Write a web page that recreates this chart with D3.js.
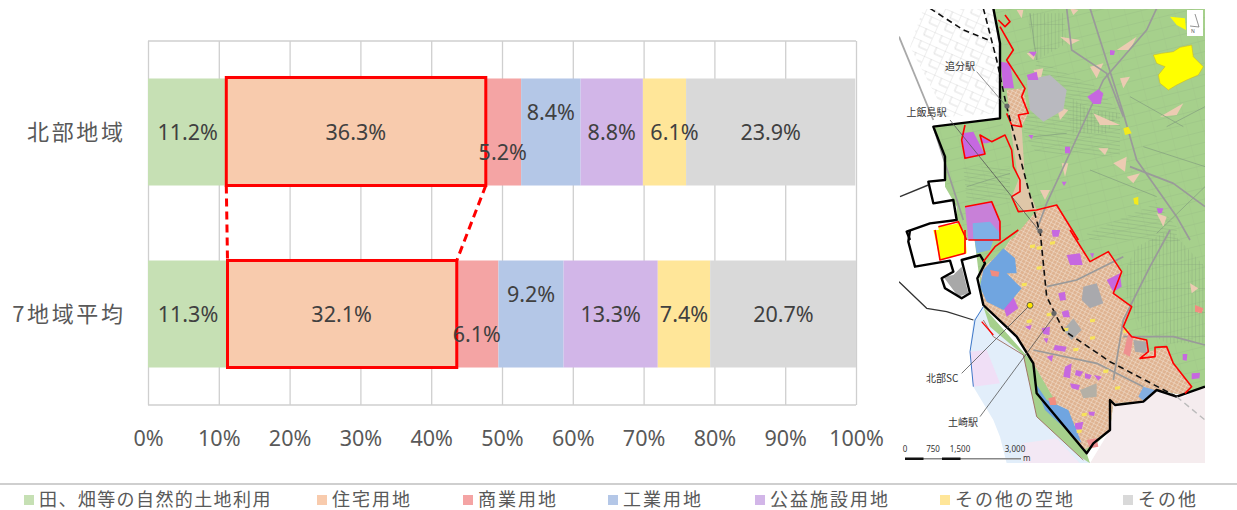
<!DOCTYPE html>
<html>
<head>
<meta charset="utf-8">
<script src="https://cdn.jsdelivr.net/npm/d3@7"></script>
<style>
html, body { margin: 0; padding: 0; background: #fff; overflow: hidden; }
svg { display: block; }
text { font-family: "Noto Sans", "Noto Sans CJK JP", sans-serif; }
.cjk { font-family: "Noto Sans CJK JP", sans-serif; }
</style>
</head>
<body>
<svg id="chart" width="1237" height="510"></svg>
<script>
var regions = ['北部地域', '7地域平均'];
var landUse = ['田、畑等の自然的土地利用', '住宅用地', '商業用地', '工業用地', '公益施設用地', 'その他の空地', 'その他'];
var northValues = [11.2, 36.3, 5.2, 8.4, 8.8, 6.1, 23.9];
var averageValues = [11.3, 32.1, 6.1, 9.2, 13.3, 7.4, 20.7];
var colors = ['#c6e0b4', '#f8cbad', '#f4a4a4', '#b4c7e7', '#d2b6e8', '#ffe699', '#d9d9d9'];
var xTicks = [0, 10, 20, 30, 40, 50, 60, 70, 80, 90, 100];
var legendX = [24, 317, 463, 608, 755, 940, 1123];

var svg = d3.select('#chart');

var x = d3.scaleLinear().domain([0, 100]).range([148, 856]);
var y = d3.scaleBand().domain(regions).range([41, 405]).paddingInner(0.412).paddingOuter(0.206);

// grid + x labels
var axis = d3.axisBottom(x).tickValues(xTicks).tickFormat(function (d) { return d + '%'; }).tickSize(-364).tickPadding(22);
var axisG = svg.append('g').attr('transform', 'translate(0,405)').call(axis);
axisG.select('.domain').remove();
axisG.selectAll('line').attr('stroke', '#cfcfcf').attr('stroke-width', 1.3);
axisG.selectAll('text').attr('fill', '#595959').style('font-size', '21.5px').attr('dy', '0.35em').attr('y', 33);
svg.append('line').attr('x1', x(0)).attr('x2', x(100)).attr('y1', 41).attr('y2', 41).attr('stroke', '#cfcfcf').attr('stroke-width', 1.3);
svg.append('line').attr('x1', x(0)).attr('x2', x(100)).attr('y1', 405).attr('y2', 405).attr('stroke', '#cfcfcf').attr('stroke-width', 1.3);

// region labels
svg.selectAll('.region').data(regions).enter().append('text')
	.attr('class', 'region cjk')
	.attr('x', 125.5)
	.attr('y', function (d) { return y(d) + y.bandwidth() / 2; })
	.attr('dy', '0.35em')
	.attr('text-anchor', 'end')
	.attr('fill', '#595959')
	.style('font-size', '22px')
	.style('letter-spacing', '2.6px')
	.text(function (d) { return d; });

// stacked bars
function drawRow(region, values) {
	var cum = 0;
	values.forEach(function (v, i) {
		var x0 = cum;
		cum += v;
		svg.append('rect')
			.attr('x', x(x0))
			.attr('y', y(region))
			.attr('width', x(Math.min(cum, 100)) - x(x0))
			.attr('height', y.bandwidth())
			.attr('fill', colors[i]);
	});
}
function drawLabels(region, values) {
	var cum = 0;
	var mid = y(region) + y.bandwidth() / 2;
	values.forEach(function (v, i) {
		var x0 = cum;
		cum += v;
		// the narrow segments are nudged like in the original
		var dy = i == 2 ? 20 : (i == 3 ? -20 : 0);
		var dx = (i == 5 && region == regions[0]) ? 10 : 0;
		svg.append('text')
			.attr('x', x((x0 + cum) / 2) + dx)
			.attr('y', mid + dy)
			.attr('dy', '0.35em')
			.attr('text-anchor', 'middle')
			.attr('fill', '#404040')
			.style('font-size', '21.5px')
			.text(v.toFixed(1) + '%');
	});
}
drawRow(regions[0], northValues);
drawRow(regions[1], averageValues);

// red highlight on the housing segment
var red = '#ff0000';
var n0 = x(northValues[0]) - 1, n1 = x(northValues[0] + northValues[1]) + 1.5;
var a0 = x(averageValues[0]) - 0.5, a1 = x(averageValues[0] + averageValues[1]) + 1.5;
var nBottom = y(regions[0]) + y.bandwidth(), aTop = y(regions[1]);
svg.append('rect').attr('x', n0).attr('y', y(regions[0]) - 1).attr('width', n1 - n0).attr('height', y.bandwidth() + 1)
	.attr('fill', 'none').attr('stroke', red).attr('stroke-width', 3);
svg.append('rect').attr('x', a0).attr('y', aTop).attr('width', a1 - a0).attr('height', y.bandwidth())
	.attr('fill', 'none').attr('stroke', red).attr('stroke-width', 3);
[[n0, a0], [n1, a1]].forEach(function (p) {
	svg.append('line').attr('x1', p[0]).attr('x2', p[1]).attr('y1', nBottom).attr('y2', aTop)
		.attr('stroke', red).attr('stroke-width', 3).attr('stroke-dasharray', '8 5');
});
drawLabels(regions[0], northValues);
drawLabels(regions[1], averageValues);

// legend
svg.append('line').attr('x1', 0).attr('x2', 1237).attr('y1', 484).attr('y2', 484).attr('stroke', '#bfbfbf').attr('stroke-width', 1.5);
landUse.forEach(function (name, i) {
	svg.append('rect').attr('x', legendX[i]).attr('y', 495).attr('width', 10).attr('height', 10).attr('fill', colors[i]);
	svg.append('text').attr('class', 'cjk')
		.attr('x', legendX[i] + 15).attr('y', 500).attr('dy', '0.36em')
		.attr('fill', '#595959')
		.style('font-size', '18px')
		.style('letter-spacing', i == 0 ? '1.4px' : '2px')
		.text(name);
});

// ---- location map (illustration, traced roughly by eye)
var defs = svg.append('defs');
defs.append('clipPath').attr('id', 'mapClip').append('rect').attr('x', 899).attr('y', 9).attr('width', 306).attr('height', 454);
defs.append('filter').attr('id', 'soft').append('feGaussianBlur').attr('stdDeviation', 0.4);
var pat = defs.append('pattern').attr('id', 'town').attr('width', 4).attr('height', 3.5).attr('patternUnits', 'userSpaceOnUse')
	.attr('patternTransform', 'rotate(28)');
pat.append('rect').attr('width', 4).attr('height', 3.5).attr('fill', '#dfb391');
pat.append('path').attr('d', 'M0 0H4M0 0V3.5').attr('stroke', '#f4e6d8').attr('stroke-width', 0.9);
var patG = defs.append('pattern').attr('id', 'fields').attr('width', 16).attr('height', 11).attr('patternUnits', 'userSpaceOnUse')
	.attr('patternTransform', 'rotate(-14)');
patG.append('rect').attr('width', 16).attr('height', 11).attr('fill', '#a6d08c');
patG.append('path').attr('d', 'M0 0H16').attr('stroke', '#8fae80').attr('stroke-width', 0.5);
patG.append('path').attr('d', 'M0 0V11').attr('stroke', '#99bd86').attr('stroke-width', 0.4);
var patR = defs.append('pattern').attr('id', 'rows').attr('width', 3.6).attr('height', 24).attr('patternUnits', 'userSpaceOnUse');
patR.append('path').attr('d', 'M0 0V24').attr('stroke', '#7f9c78').attr('stroke-width', 0.6);
patR.append('path').attr('d', 'M0 0H3.6').attr('stroke', '#7f9c78').attr('stroke-width', 0.5);
var patH = defs.append('pattern').attr('id', 'rowsH').attr('width', 30).attr('height', 4).attr('patternUnits', 'userSpaceOnUse')
	.attr('patternTransform', 'rotate(8)');
patH.append('path').attr('d', 'M0 0H30').attr('stroke', '#7f9c78').attr('stroke-width', 0.6);
var patN = defs.append('pattern').attr('id', 'streets').attr('width', 17).attr('height', 13).attr('patternUnits', 'userSpaceOnUse')
	.attr('patternTransform', 'rotate(24)');
patN.append('path').attr('d', 'M0 0H17M0 0V13M8 0V7M8 7H17').attr('fill', 'none').attr('stroke', '#c4c4c4').attr('stroke-width', 0.55);

var map = svg.append('g').attr('clip-path', 'url(#mapClip)').append('g').attr('filter', 'url(#soft)');
var line = d3.line();
function upper(pts) { return pts.map(function (p) { return [890 + p[0] / 3, p[1] / 3]; }); }
function lower(pts) { return pts.map(function (p) { return [890 + p[0] / 3, 230 + p[1] / 3]; }); }
function poly(pts, fill, stroke, w, dash) {
	map.append('path').attr('d', line(pts) + (fill == 'none' ? '' : 'Z')).attr('fill', fill)
		.attr('stroke', stroke || 'none').attr('stroke-width', w || 0).attr('stroke-dasharray', dash || null)
		.attr('stroke-linejoin', 'round');
}

map.append('rect').attr('x', 899).attr('y', 9).attr('width', 306).attr('height', 454).attr('fill', '#fff');

// outside the area: sea side and south
poly(lower([[280,230],[250,270],[240,360],[250,470],[310,570],[330,620],[350,700],[600,700],[430,400]]), '#e2eefa');
poly(lower([[240,365],[290,360],[330,460],[250,470]]), '#f0dff6');
poly(lower([[600,700],[660,600],[670,520],[800,480],[880,500],[945,470],[945,700]]), '#f5ecee');
poly(lower([[400,640],[500,625],[570,700],[400,700]]), '#f3e8f4');

// main green land use
poly(upper([[310,25],[945,25],[945,720],[200,720],[200,620],[165,560],[165,470],[130,380],[330,355],[330,130]]), 'url(#fields)');
poly(lower([[945,0],[945,470],[880,495],[800,480],[760,515],[670,520],[660,600],[590,670],[430,400],[380,320],[280,230],[265,120],[250,0]]), 'url(#fields)');
poly(lower([[280,230],[430,400],[590,670],[600,700],[570,680],[440,560],[400,375],[300,290]]), '#a6d08c');

// bundles of farm rows
poly(upper([[440,180],[620,260],[690,340],[690,470],[440,460],[400,400]]), 'url(#rowsH)');
poly(upper([[590,700],[800,610],[860,680],[860,720],[600,720]]), 'url(#rowsH)');
poly(upper([[410,40],[520,40],[530,130],[440,180]]), 'url(#rows)');
poly(lower([[740,50],[840,0],[945,110],[945,340],[830,340],[760,300],[715,220],[700,130]]), 'url(#rows)');
poly(upper([[540,290],[600,330],[690,340],[650,400],[540,400]]), 'url(#rows)');
poly(upper([[220,500],[360,500],[360,600],[230,600]]), 'url(#rowsH)');

// urban area
poly(lower([[380,0],[540,0],[600,95],[655,65],[695,125],[670,190],[725,230],[700,290],[725,320],[770,330],[775,365],[830,350],[850,400],[905,470],[880,495],[800,480],[760,515],[670,520],[660,600],[600,650],[580,660],[430,400],[380,320],[280,230],[270,120],[340,60]]), 'url(#town)');
poly(upper([[365,720],[440,630],[500,615],[565,720]]), 'url(#town)');
poly(upper([[345,25],[360,70],[330,130],[370,150],[355,180],[400,260],[415,340],[390,380],[400,540],[365,590],[440,630],[365,720],[360,600],[360,410],[330,360],[330,100]]), '#a6d08c');
poly(upper([[350,270],[400,265],[415,340],[395,380],[360,370]]), 'url(#town)');
poly(upper([[360,370],[395,380],[405,540],[440,630],[400,640],[365,590],[385,540]]), '#dfc7a8');
[[[510,110],[570,120],[540,135]], [[680,150],[740,110],[720,150]], [[610,340],[690,375],[630,375]], [[670,490],[710,470],[705,515]], [[500,320],[535,330],[510,360]], [[710,530],[750,520],[730,550]],
 [[600,200],[640,190],[620,235]], [[380,30],[400,30],[395,55]], [[410,160],[440,155],[430,180]], [[430,210],[460,205],[450,245]], [[810,350],[880,310],[860,345]], [[625,445],[655,445],[645,465]],
 [[450,570],[480,570],[465,600]], [[515,490],[535,490],[525,530]], [[800,640],[830,650],[820,680]], [[690,235],[720,230],[700,265]], [[540,25],[565,30],[550,45]]].forEach(function (s) {
	poly(upper(s), '#eccbb2');
});
[[[900,160],[925,175],[905,190]], [[920,235],[940,240],[925,250]]].forEach(function (s) { poly(lower(s), '#eccbb2'); });

// white block in the north-west with its street net
poly(upper([[27,25],[310,25],[330,130],[330,355],[200,370],[130,380],[27,110]]), '#fff');
poly(upper([[100,25],[310,25],[330,130],[330,340],[170,350],[60,140]]), 'url(#streets)');
poly(upper([[27,110],[130,360]]), 'none', '#a8a8a8', 1.8);

// roads
[upper([[600,25],[700,340],[740,480],[860,650],[900,720]]),
 upper([[530,25],[545,150],[650,220],[700,350]]),
 upper([[800,25],[770,90],[640,240],[530,480],[470,610],[440,690]]),
 upper([[720,500],[850,550],[945,620]]),
 upper([[130,380],[220,660]]),
 lower([[840,0],[780,110],[700,270],[670,450]]),
 lower([[430,360],[620,400],[760,470]]),
 lower([[470,170],[560,150],[700,80]]),
 lower([[700,320],[850,320],[945,345]])].forEach(function (r) { poly(r, 'none', '#9a9a9a', 1.7); });

// farm tracks
[upper([[420,40],[440,180]]), upper([[830,380],[945,320]]), upper([[760,440],[945,500]]), upper([[720,290],[880,380]]), upper([[600,510],[800,590]]),
 upper([[230,560],[360,520]]), upper([[800,700],[945,560]]), upper([[430,410],[530,400]])].forEach(function (r) {
	poly(r, 'none', '#88a580', 0.8);
});

// gray areas
poly(upper([[410,240],[480,225],[530,270],[520,330],[460,365],[420,330]]), '#b9b9bf');
poly(lower([[580,170],[620,160],[640,220],[600,235],[575,210]]), '#a9a9ad');
poly(lower([[520,300],[550,265],[575,300],[545,330]]), '#adadad');
poly(lower([[160,140],[190,135],[215,110],[235,190],[205,200]]), '#a8a8a8');
poly(lower([[730,330],[770,335],[770,370],[735,365]]), '#a9a9a9');
poly(lower([[570,480],[620,460],[620,500],[580,505]]), '#b4b0a6');

// yellow, purple, blue patches
poly(upper([[790,165],[815,160],[850,155],[870,142],[905,135],[910,170],[940,200],[925,225],[890,240],[860,255],[835,270],[810,250],[805,225],[825,200],[800,190]]), '#ffff00', '#c8b830', 0.6);
poly(upper([[840,50],[885,55],[888,90],[860,75]]), '#ffff00');
poly(upper([[700,385],[715,380],[725,400],[705,405]]), '#f4ea1a');
poly(upper([[730,595],[745,590],[745,615],[733,612]]), '#f4ea1a');
var purple = '#c668e0';
[upper([[332,185],[360,190],[372,265],[340,265]]), upper([[215,400],[250,395],[285,465],[225,475]]), upper([[270,410],[305,425],[290,430],[275,430]]),
 upper([[592,290],[625,268],[640,280],[632,312],[610,312]]), upper([[410,225],[440,215],[445,240],[415,240]]), upper([[525,440],[540,440],[540,460],[525,460]]),
 upper([[660,150],[675,152],[672,165],[660,165]]), upper([[800,625],[820,625],[815,640],[805,640]]), upper([[415,155],[440,155],[432,170]]), upper([[415,405],[430,405],[425,418]]),
 upper([[515,545],[530,545],[522,558]]), upper([[485,690],[510,690],[505,710],[488,710]]),
 lower([[650,150],[690,130],[695,170],[670,185]]), lower([[340,230],[370,200],[385,235],[350,260]]), lower([[530,75],[570,70],[578,105],[540,105]]),
 lower([[525,410],[545,400],[540,445],[520,440]]), lower([[495,345],[530,350],[525,365],[490,360]]), lower([[558,420],[580,425],[570,440],[555,435]]),
 lower([[505,190],[525,185],[528,210],[510,212]]), lower([[555,580],[580,575],[575,600],[555,598]]), lower([[905,430],[930,428],[928,445],[905,448]]),
 lower([[878,372],[892,372],[890,392],[878,390]]), lower([[540,460],[570,465],[565,480],[545,475]]), lower([[595,545],[615,545],[612,558],[598,556]]),
 lower([[455,295],[480,290],[478,315],[460,312]]), lower([[585,430],[605,435],[600,447],[585,445]]), lower([[490,5],[510,0],[505,18],[490,18]]),
 lower([[515,245],[535,240],[540,262],[520,262]]), lower([[405,290],[425,285],[420,300]]), lower([[612,435],[635,440],[625,452]]), lower([[470,380],[490,375],[485,395]]),
 lower([[600,70],[612,70],[608,85]]), lower([[460,325],[475,325],[470,340]])].forEach(function (s) { poly(s, purple); });
poly(lower([[280,120],[340,55],[375,85],[380,130],[350,130],[395,175],[340,240],[290,215],[270,170]]), '#6fa5e0');
poly(lower([[430,450],[470,510],[535,540],[575,640],[540,610],[465,540]]), '#6fa5e0');
poly(lower([[760,470],[795,480],[765,515],[745,500]]), '#84aee0');
poly(upper([[225,620],[305,605],[330,665],[330,720],[235,720]]), '#c880d8');
poly(upper([[248,670],[300,665],[330,700],[330,720],[250,720]]), '#7fb0e6');
poly(lower([[250,0],[320,0],[300,60],[260,70]]), '#7fb0e6');
poly(lower([[300,120],[328,125],[325,140],[305,138]]), '#f28c80');
poly(lower([[475,505],[495,500],[500,525],[480,525]]), '#f28c80');
poly(lower([[915,225],[940,235],[935,250],[915,245]]), '#f28c80');
poly(lower([[715,310],[730,320],[720,380],[700,370]]), '#ee9090');
poly(lower([[590,630],[620,625],[625,650],[600,655]]), '#ee9090');
poly(upper([[145,680],[210,670],[230,720],[150,720]]), '#ffff00');
poly(lower([[130,0],[225,0],[230,70],[150,90]]), '#ffff00');
// small yellow spots in town
[[420,45],[440,50],[600,268],[395,160],[410,270],[575,550],[520,295],[675,470],[480,35],[700,300],[440,110],[600,320],[640,420],[560,600],[470,250],[550,355]].forEach(function (p) {
	poly(lower([[p[0], p[1]], [p[0] + 16, p[1] - 2], [p[0] + 14, p[1] + 8], [p[0], p[1] + 9]]), '#f7e35a');
});

// black city boundary
var black = '#000';
poly(upper([[310,25],[330,130],[330,355],[130,380],[165,470],[165,540],[115,545],[130,610],[190,600],[200,660],[120,670],[50,695],[60,720]]), 'none', black, 2.4);
poly(lower([[60,0],[55,35],[75,110],[180,92],[190,125],[155,145],[165,175],[215,205],[240,190],[215,90],[270,75],[285,100],[262,145],[280,225],[380,320],[430,400],[440,490],[590,670],[610,640],[660,600],[660,510],[675,525],[760,515],[800,480],[860,500],[945,470]]), 'none', black, 2.4);
poly(lower([[27,155],[110,235],[170,245],[250,270]]), 'none', '#333', 1.3);
poly(upper([[30,590],[115,555]]), 'none', '#333', 1.4);
poly(lower([[280,230],[255,270],[240,365],[250,470]]), 'none', '#3f78c9', 1);
poly(lower([[280,270],[310,320],[400,375],[440,560],[580,690]]), 'none', '#9c6a5c', 0.9);

// red boundary of the northern area
poly(upper([[345,45],[360,65],[345,80],[325,60]]), 'none', red, 1.6);
poly(upper([[330,80],[370,150],[350,180],[405,265],[395,290],[415,340],[385,345],[395,380],[365,375],[350,340]]), 'none', red, 1.6);
poly(upper([[225,375],[215,420],[225,475],[285,462],[270,405],[305,425],[345,405],[365,450],[370,500],[390,540],[390,575],[365,590],[385,635],[440,630],[500,615],[565,720]]), 'none', red, 1.6);
poly(upper([[225,620],[305,605],[330,665],[330,720],[235,720]]), 'none', red, 1.6);
poly(upper([[145,680],[205,665],[230,720]]), 'none', red, 1.6);
poly(lower([[135,0],[150,90],[225,70],[225,0]]), 'none', red, 1.6);
poly(lower([[385,0],[315,50],[280,95]]), 'none', red, 1.6);
poly(lower([[540,0],[600,95],[655,65],[695,125],[670,190],[725,230],[700,290],[725,320],[770,330],[775,365],[750,385],[795,380],[795,352],[830,350],[850,400],[905,470],[885,490]]), 'none', red, 1.6);
poly(lower([[275,275],[310,315]]), 'none', red, 1.3);

// railway
poly(upper([[280,25],[320,180],[350,320],[400,510],[450,700]]), 'none', '#111', 1.6, '6 4');
poly(upper([[120,25],[220,90],[295,120]]), 'none', '#111', 1.6, '6 4');
poly(lower([[450,0],[470,200],[520,300],[660,395],[860,500]]), 'none', '#111', 1.6, '6 4');
poly(lower([[860,500],[945,570]]), 'none', '#bbb', 1.4, '6 4');

// leader lines, stations
poly(upper([[260,215],[350,320]]), 'none', '#666', 0.7);
poly(upper([[180,360],[450,695]]), 'none', '#555', 0.8);
poly(lower([[215,430],[420,225]]), 'none', '#555', 0.8);
poly(lower([[270,560],[495,255]]), 'none', '#555', 0.8);
[upper([[351,318]]), upper([[450,693]]), lower([[492,250]])].forEach(function (p) {
	map.append('circle').attr('cx', p[0][0]).attr('cy', p[0][1]).attr('r', 2.6).attr('fill', '#666');
});
map.append('circle').attr('cx', 890 + 420 / 3).attr('cy', 230 + 226 / 3).attr('r', 3).attr('fill', '#ffe600').attr('stroke', '#444').attr('stroke-width', 0.8);

// north arrow
map.append('rect').attr('x', 1187).attr('y', 10).attr('width', 16).attr('height', 26).attr('fill', '#fff');
poly([[1195,14],[1199,27],[1190,26]], 'none', '#666', 0.7);

// station names, scale bar
var mapLabels = [['追分駅', 945, 66], ['上飯島駅', 906.5, 112], ['北部SC', 926, 378], ['土崎駅', 948, 422]];
mapLabels.forEach(function (d) {
	svg.append('text').attr('class', 'cjk').attr('x', d[1]).attr('y', d[2]).attr('dy', '0.35em')
		.attr('fill', '#333').style('font-size', '10px').text(d[0]);
});
svg.append('text').attr('x', 1193).attr('y', 33).attr('fill', '#555').attr('text-anchor', 'middle').style('font-size', '5px').text('N');
var scaleLabels = [['0', 905], ['750', 933], ['1,500', 960], ['3,000', 1015]];
scaleLabels.forEach(function (d) {
	svg.append('text').attr('x', d[1]).attr('y', 452).attr('fill', '#333').attr('text-anchor', 'middle').style('font-size', '8px').text(d[0]);
});
svg.append('text').attr('x', 1023).attr('y', 461).attr('fill', '#333').style('font-size', '8px').text('m');
svg.append('rect').attr('x', 905).attr('y', 458).attr('width', 116).attr('height', 1.5).attr('fill', '#888');
svg.append('rect').attr('x', 905).attr('y', 457.5).attr('width', 18.5).attr('height', 2.5).attr('fill', '#111');
svg.append('rect').attr('x', 942).attr('y', 457.5).attr('width', 18.5).attr('height', 2.5).attr('fill', '#111');
</script>
</body>
</html>
